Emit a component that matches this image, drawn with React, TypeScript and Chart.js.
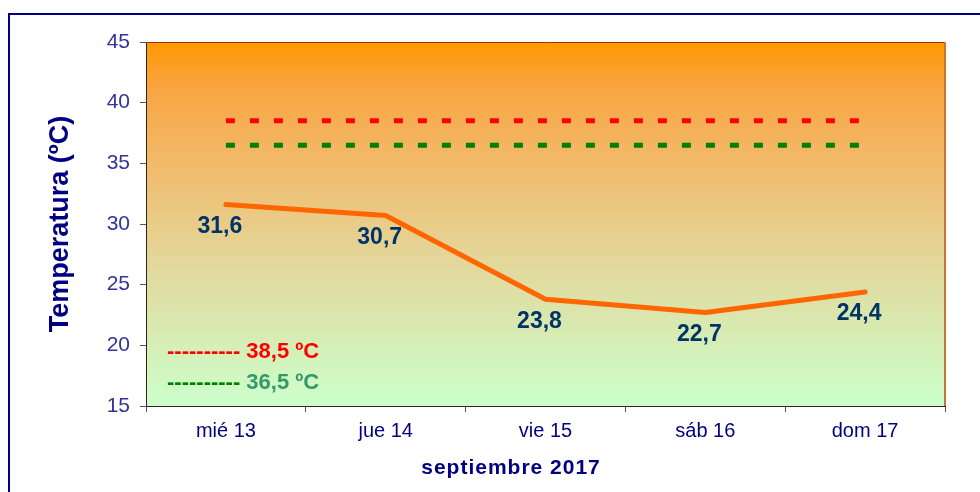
import React, { useEffect, useRef } from "react";
import { Chart, registerables } from "chart.js";

Chart.register(...registerables);

const categories = ["mié 13", "jue 14", "vie 15", "sáb 16", "dom 17"];
const temperatures = [31.6, 30.7, 23.8, 22.7, 24.4];
const redThreshold = 38.5;
const greenThreshold = 36.5;
const yMin = 15;
const yMax = 45;
const yStep = 5;
const yTitle = "Temperatura (ºC)";
const xTitle = "septiembre 2017";
const redLegendText = "38,5 ºC";
const greenLegendText = "36,5 ºC";
const legendDashes = "----------";

const FONT = "'Liberation Sans', Arial, sans-serif";

const fmt = (v: number) => v.toFixed(1).replace(".", ",");

const decorPlugin = {
  id: "decor",
  beforeDraw(chart: any) {
    const { ctx, chartArea: a, width, height } = chart;
    ctx.save();
    ctx.fillStyle = "#ffffff";
    ctx.fillRect(0, 0, width, height);
    // outer border
    ctx.strokeStyle = "#000080";
    ctx.lineWidth = 2;
    ctx.beginPath();
    ctx.moveTo(9, height + 5);
    ctx.lineTo(9, 14);
    ctx.lineTo(width + 5, 14);
    ctx.stroke();
    // plot gradient
    const g = ctx.createLinearGradient(0, a.top, 0, a.bottom);
    g.addColorStop(0, "#FF9900");
    g.addColorStop(0.12, "#F9A43F");
    g.addColorStop(0.35, "#F1BC6E");
    g.addColorStop(0.6, "#E3D79A");
    g.addColorStop(1, "#CCFFCC");
    ctx.fillStyle = g;
    ctx.fillRect(a.left, a.top, a.right - a.left, a.bottom - a.top);
    ctx.restore();
  },
  afterDatasetsDraw(chart: any) {
    const { ctx } = chart;
    const meta = chart.getDatasetMeta(0);
    ctx.save();
    ctx.font = `bold 23px ${FONT}`;
    ctx.fillStyle = "#003366";
    ctx.textAlign = "center";
    ctx.textBaseline = "middle";
    meta.data.forEach((p: any, i: number) => {
      ctx.fillText(fmt(temperatures[i]), p.x - 6, p.y + 22);
    });
    ctx.restore();
  },
  afterDraw(chart: any) {
    const { ctx, chartArea: a } = chart;
    ctx.save();
    // plot border top/right
    ctx.strokeStyle = "#993300";
    ctx.lineWidth = 1;
    ctx.beginPath();
    ctx.moveTo(a.left, a.top + 0.5);
    ctx.lineTo(a.right, a.top + 0.5);
    ctx.stroke();
    ctx.strokeStyle = "#C87533";
    ctx.lineWidth = 2;
    ctx.beginPath();
    ctx.moveTo(a.right, a.top);
    ctx.lineTo(a.right, a.bottom);
    ctx.stroke();
    // legend-like notes
    ctx.font = `bold 22px ${FONT}`;
    ctx.textBaseline = "middle";
    ctx.textAlign = "left";
    const x0 = a.left + 21;
    const dashW = ctx.measureText(legendDashes + " ").width;
    ctx.fillStyle = "#FF0000";
    ctx.fillText(legendDashes + " ", x0, a.top + 310);
    ctx.fillText(redLegendText, x0 + dashW, a.top + 310);
    ctx.fillStyle = "#008000";
    ctx.fillText(legendDashes + " ", x0, a.top + 341);
    ctx.fillStyle = "#339966";
    ctx.fillText(greenLegendText, x0 + dashW, a.top + 341);
    // x axis title with letter spacing
    ctx.font = `bold 21px ${FONT}`;
    ctx.fillStyle = "#000080";
    ctx.textAlign = "center";
    try {
      (ctx as any).letterSpacing = "1px";
    } catch (e) {}
    ctx.fillText(xTitle, 511, 468);
    ctx.restore();
  },
};

export default function App() {
  const ref = useRef<HTMLCanvasElement>(null);
  useEffect(() => {
    if (!ref.current) return;
    const chart = new Chart(ref.current, {
      type: "line",
      data: {
        labels: categories,
        datasets: [
          {
            data: temperatures,
            borderColor: "#FF6600",
            borderWidth: 5,
            pointRadius: 0,
            borderCapStyle: "round",
            borderJoinStyle: "round",
            tension: 0,
          },
          {
            data: categories.map(() => redThreshold),
            borderColor: "#FF0000",
            borderWidth: 5,
            borderDash: [9, 15],
            pointRadius: 0,
          },
          {
            data: categories.map(() => greenThreshold),
            borderColor: "#008000",
            borderWidth: 5,
            borderDash: [9, 15],
            pointRadius: 0,
          },
        ],
      },
      options: {
        animation: false,
        responsive: false,
        devicePixelRatio: 1,
        layout: { padding: { top: 42, right: 35, left: 0, bottom: 0 } },
        plugins: { legend: { display: false }, tooltip: { enabled: false } },
        scales: {
          x: {
            type: "category",
            offset: true,
            grid: { offset: true, drawOnChartArea: false, tickLength: 6, color: "#555555" },
            border: { color: "#332211", width: 1 },
            ticks: { color: "#000080", font: { size: 20, family: FONT }, padding: 7 },
            title: { display: false },
            afterFit: (s: any) => {
              s.height = 86;
            },
          },
          y: {
            min: yMin,
            max: yMax,
            ticks: { stepSize: yStep, color: "#333399", font: { size: 21, family: FONT }, padding: 10 },
            grid: { drawOnChartArea: false, tickLength: 6, color: "#555555" },
            border: { color: "#332211", width: 1 },
            title: {
              display: true,
              text: yTitle,
              color: "#000080",
              font: { size: 27, weight: "bold", family: FONT },
              padding: { top: 44, bottom: 0 },
            },
            afterFit: (s: any) => {
              s.width = 146;
            },
          },
        },
      },
      plugins: [decorPlugin],
    } as any);
    return () => chart.destroy();
  }, []);
  return (
    <div style={{ position: "absolute", left: 0, top: 0, width: 980, height: 492 }}>
      <canvas ref={ref} width={980} height={492} />
    </div>
  );
}
